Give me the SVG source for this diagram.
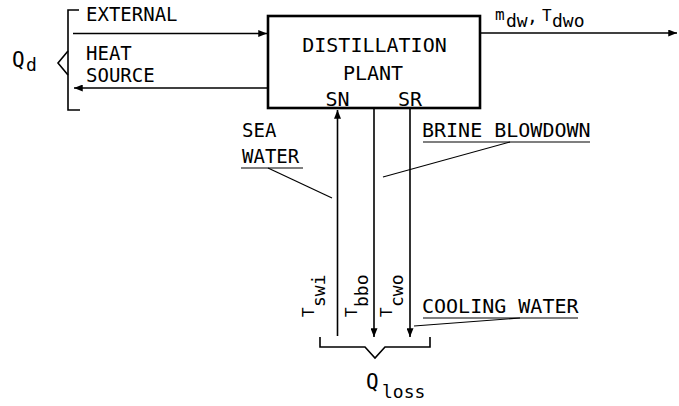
<svg xmlns="http://www.w3.org/2000/svg" width="679" height="406" viewBox="0 0 679 406">
<style>
text{font-family:"DejaVu Sans Mono","Liberation Mono",monospace;fill:#000}
.t{font-size:20px}
.tl{font-size:19px}
.sm{font-size:16px}
.sb{font-size:18px}
.q{font-size:21px}
.ln{stroke:#000;stroke-width:1.6;fill:none}
.th{stroke:#000;stroke-width:1.2;fill:none}
.bx{stroke:#000;stroke-width:2.6;fill:#fff}
</style>
<defs>
<marker id="ah" viewBox="0 0 10 8" refX="10" refY="4" markerWidth="9" markerHeight="7" markerUnits="userSpaceOnUse" orient="auto">
<path d="M0,0 L10,4 L0,8 Z" fill="#000"/>
</marker>
</defs>
<rect width="679" height="406" fill="#fff"/>

<g id="connectors">
<line class="ln" x1="73" y1="33.5" x2="267" y2="33.5" marker-end="url(#ah)"/>
<line class="ln" x1="268" y1="88" x2="74" y2="88" marker-end="url(#ah)"/>
<line class="ln" x1="481" y1="33" x2="677" y2="33" marker-end="url(#ah)"/>
<line class="ln" x1="337.5" y1="336" x2="337.5" y2="110" marker-end="url(#ah)"/>
<line class="ln" x1="374" y1="108" x2="374" y2="337" marker-end="url(#ah)"/>
<line class="ln" x1="410" y1="108" x2="410" y2="337" marker-end="url(#ah)"/>
</g>

<g id="plant">
<rect class="bx" x="268" y="16" width="212" height="92"/>
<text class="t" x="374.5" y="52" text-anchor="middle">DISTILLATION</text>
<text class="t" x="373" y="80" text-anchor="middle">PLANT</text>
<text class="t" x="337.5" y="106" text-anchor="middle">SN</text>
<text class="t" x="410" y="106" text-anchor="middle">SR</text>
</g>

<g id="heat-source">
<path class="ln" d="M79,10 L68,10 L68,110 L80,110"/>
<path class="ln" d="M68,51 L58,63 L68,75"/>
<text class="tl" x="86" y="21">EXTERNAL</text>
<text class="tl" x="86" y="60">HEAT</text>
<text class="tl" x="86" y="82">SOURCE</text>
<text class="q" x="12" y="67">Q</text>
<text class="sb" x="26" y="71">d</text>
</g>

<g id="distillate">
<text class="sm" x="495" y="20">m</text>
<text class="sb" x="506" y="27">dw</text>
<text class="sb" x="527" y="23">,</text>
<text class="sm" x="542" y="21">T</text>
<text class="sb" x="552" y="27">dwo</text>
</g>

<g id="sea-water">
<text class="tl" x="242" y="137">SEA</text>
<text class="tl" x="242" y="163">WATER</text>
<line class="th" x1="241" y1="168" x2="303" y2="168"/>
<line class="th" x1="268" y1="168" x2="332" y2="198"/>
</g>

<g id="brine-blowdown">
<text class="t" x="422" y="137">BRINE BLOWDOWN</text>
<line class="th" x1="423" y1="142" x2="590" y2="142"/>
<line class="th" x1="383" y1="177" x2="510" y2="142"/>
</g>

<g id="cooling-water">
<text class="t" x="422" y="313">COOLING WATER</text>
<line class="th" x1="423" y1="318" x2="578" y2="318"/>
<line class="th" x1="414" y1="326" x2="520" y2="318"/>
</g>

<g id="temps">
<g transform="translate(314,317) rotate(-90)">
<text class="sm" x="0" y="0">T</text>
<text class="sb" x="10" y="11">swi</text>
</g>
<g transform="translate(357,317) rotate(-90)">
<text class="sm" x="0" y="0">T</text>
<text class="sb" x="10" y="11">bbo</text>
</g>
<g transform="translate(392,317) rotate(-90)">
<text class="sm" x="0" y="0">T</text>
<text class="sb" x="10" y="11">cwo</text>
</g>
</g>

<g id="q-loss">
<path class="ln" d="M320,337 L320,347 L365,347 L375,358 L385,347 L430,347 L430,337"/>
<text class="q" x="366" y="389">Q</text>
<text class="sb" x="382" y="398">loss</text>
</g>
</svg>
